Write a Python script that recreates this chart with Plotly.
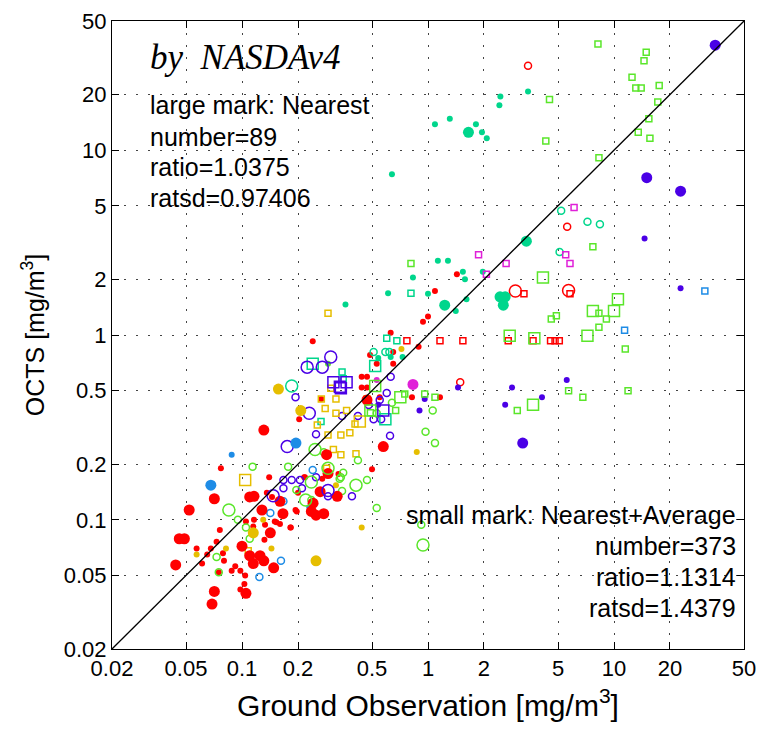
import math
import plotly.graph_objects as go

# ---- data: (ground observation, OCTS) in mg/m^3 ----
red_large = [(0.131,0.306),(0.575,0.249),(0.071,0.13),(0.052,0.113),(0.046,0.079),(0.049,0.079),
             (0.044,0.057),(0.071,0.041),(0.069,0.035),(0.105,0.040),(0.325,0.134),(0.285,0.225),
             (0.241,0.123),(0.25,0.106),(0.275,0.108),(0.16,0.126),(0.166,0.108),(0.128,0.113),
             (0.116,0.134),(0.110,0.133),(0.142,0.085),(0.100,0.072),(0.110,0.064),(0.125,0.064),
             (0.131,0.060),(0.115,0.058),(0.148,0.055),(0.47,0.445),(0.29,0.178),(0.263,0.142),(0.236,0.111)]
red_small = [(0.24,0.925),(0.44,0.595),(0.47,0.595),(0.44,0.52),(0.47,0.52),(0.488,0.78),(0.53,0.70),
             (0.63,1.03),(0.65,0.81),(0.65,0.70),(0.89,0.865),(0.94,1.18),(1.0,1.26),(1.09,1.73),
             (1.43,2.13),(1.16,0.46),(0.55,0.46),(0.82,0.46),(0.50,0.188),(0.203,0.35),(0.077,0.19),
             (0.14,0.17),(0.218,0.17),(0.2,0.14),(0.194,0.113),(0.183,0.091),(0.16,0.095),(0.15,0.098),
             (0.136,0.14),(0.145,0.133),(0.116,0.1),(0.105,0.098),(0.076,0.088),(0.073,0.076),
             (0.068,0.07),(0.065,0.065),(0.057,0.07),(0.061,0.058),(0.08,0.06),(0.079,0.066),
             (0.075,0.052),(0.092,0.056),(0.098,0.053),(0.088,0.053),(0.104,0.05),(0.103,0.045),
             (0.098,0.042),(0.115,0.092),(0.133,0.094),(0.153,0.097),(0.182,0.091),(0.197,0.111),
             (0.216,0.17),(0.27,0.167),(0.33,0.177),(0.267,0.45),(0.132,0.078)]
red_open_small = [(3.45,28.6),(5.6,3.85),(1.49,0.555)]
red_open_large = [(2.95,1.73),(5.7,1.74)]
red_square_small = [(3.28,1.67),(5.8,1.67),(0.77,0.93),(1.16,0.93),(1.54,0.93),(2.7,0.93),
                    (3.67,0.93),(4.56,0.93),(4.82,0.93),(5.08,0.93)]

teal_large = [(1.65,12.5),(3.38,3.22),(1.23,1.45),(2.44,1.61),(2.6,1.61),(2.54,1.45)]
teal_small = [(3.45,20.8),(2.45,19.5),(2.42,17.5),(1.31,14.8),(1.09,13.8),(1.81,13.8),(1.95,12.5),
              (2.07,11.6),(0.64,7.4),(1.13,2.52),(1.28,2.52),(1.54,2.2),(1.58,2.0),(1.97,2.2),
              (1.0,1.67),(1.61,1.56),(1.41,1.35),(0.83,2.05),(0.61,1.68),(0.36,1.46),(0.54,0.75),
              (0.63,0.76),(0.73,0.76)]
teal_open_small = [(5.2,4.7),(7.2,4.1),(8.4,3.97),(5.1,2.81),(0.51,0.81),(0.59,0.81),(0.62,0.81)]
teal_open_large = [(0.185,0.53)]
teal_square_small = [(0.81,1.68),(0.6,0.96),(0.68,0.93),(0.345,0.63),(0.35,0.58),(0.266,0.34)]
teal_square_large = [(0.24,0.70),(0.52,0.68),(0.59,0.35)]

magenta_large = [(0.83,0.54)]
magenta_small = [(0.53,0.57)]
magenta_square_small = [(6.1,4.9),(5.5,2.72),(5.8,2.44),(1.87,2.72),(2.63,2.44),(2.06,2.13)]

purple_large = [(35,37),(15,7.1),(22.8,6.0),(3.23,0.26)]
purple_small = [(14.6,3.33),(22.8,1.79),(1.45,0.52),(2.83,0.52),(5.57,0.57),(4.1,0.46),(2.6,0.42),
                (0.96,0.45),(0.9,0.39),(0.54,0.42)]
purple_open_large = [(0.224,0.67),(0.27,0.67),(0.30,0.76),(0.23,0.377),(0.175,0.249),(0.147,0.135),(0.29,0.144)]
purple_open_small = [(0.194,0.46),(0.25,0.29),(0.345,0.365),(0.42,0.365),(0.51,0.35),(0.56,0.35),
                     (0.625,0.285),(0.63,0.595),(0.6,0.485),(0.55,0.445),(0.48,0.418),(0.167,0.164),
                     (0.185,0.164),(0.205,0.164),(0.167,0.148),(0.21,0.148),(0.25,0.17),(0.29,0.134),(0.39,0.134)]
purple_square_large = [(0.31,0.555),(0.336,0.525),(0.365,0.555),(0.34,0.515),(0.575,0.39)]

yellow_large = [(0.157,0.51),(0.207,0.39),(0.115,0.085),(0.25,0.06)]
yellow_small = [(0.72,0.84),(0.87,0.233),(0.44,0.091),(0.13,0.1),(0.082,0.07),(0.057,0.065),
                (0.144,0.07),(0.32,0.154)]
yellow_square_small = [(0.29,1.31),(0.267,0.45),(0.28,0.40),(0.32,0.45),(0.30,0.515),(0.254,0.326),
                       (0.29,0.288),(0.34,0.288),(0.38,0.296),(0.405,0.33),(0.365,0.39),(0.32,0.377),
                       (0.31,0.24),(0.34,0.225),(0.41,0.228),(0.285,0.19),(0.108,0.068),(0.47,0.45)]
yellow_square_large = [(0.104,0.164),(0.43,0.34)]

blue_large = [(0.195,0.26),(0.068,0.154)]
blue_small = [(0.088,0.225),(0.23,0.117)]
blue_open_small = [(0.24,0.186),(0.167,0.126),(0.142,0.109),(0.162,0.06),(0.124,0.049)]
blue_square_small = [(11.4,1.06),(30.8,1.73)]

green_small = [(0.29,0.70)]
green_square_small = [(8.2,37.5),(14.9,33.9),(14.5,30.5),(12.5,24.8),(13.1,21.7),(14.0,21.7),
                      (17.5,22.4),(17.2,18.2),(15.4,14.8),(13.5,12.5),(15.6,11.6),(4.5,18.8),
                      (4.3,11.2),(8.3,9.1),(7.7,3.0),(8.3,1.31),(9.1,1.22),(4.6,1.22),(4.9,1.27),
                      (8.3,1.1),(11.5,0.84),(5.7,0.5),(6.8,0.46),(11.9,0.5),(3.02,0.39),(0.96,0.48),
                      (1.09,0.46),(0.81,2.44),(0.75,0.48),(0.67,0.39),(0.49,0.38)]
green_square_large = [(4.15,2.05),(10.5,1.56),(7.7,1.35),(10,1.35),(7.2,0.99),(2.75,0.99),(3.73,0.96),
                      (3.67,0.42),(0.52,0.53),(0.71,0.46),(0.49,0.39)]
green_open_small = [(1.06,0.39),(0.97,0.30),(1.09,0.26),(0.92,0.094),(0.114,0.194),(0.47,0.164),
                    (0.42,0.21),(0.53,0.116),(0.345,0.143),(0.35,0.18),(0.34,0.17),(0.275,0.232),
                    (0.236,0.128),(0.196,0.145),(0.177,0.194),(0.095,0.1),(0.105,0.091),(0.11,0.079),
                    (0.073,0.063),(0.075,0.052),(0.64,0.43),(0.53,0.377),(0.335,0.167)]
green_open_large = [(0.247,0.24),(0.41,0.154),(0.22,0.128),(0.236,0.16),(0.085,0.113),(0.94,0.073),(0.29,0.19)]

one_to_one = [0.02, 50]
tick_values = [0.02, 0.05, 0.1, 0.2, 0.5, 1, 2, 5, 10, 20, 50]
tick_labels = ["0.02", "0.05", "0.1", "0.2", "0.5", "1", "2", "5", "10", "20", "50"]

# ---- styles ----
COL = dict(red="#ff0000", teal="#00d68c", purple="#4a00e6", yellow="#e6be00",
           magenta="#e020d8", blue="#1e8ce6", green="#5ae62a")
KIND = {
    "small_filled": dict(symbol="circle", size=6, lw=0),
    "small_open": dict(symbol="circle-open", size=7, lw=1.5),
    "small_square": dict(symbol="square-open", size=6, lw=1.5),
    "large_filled": dict(symbol="circle", size=11, lw=0),
    "large_open": dict(symbol="circle-open", size=12, lw=1.5),
    "large_square": dict(symbol="square-open", size=11, lw=1.5),
}
groups = [
    (red_small, "red", "small_filled"), (red_open_small, "red", "small_open"),
    (red_square_small, "red", "small_square"),
    (teal_small, "teal", "small_filled"), (teal_open_small, "teal", "small_open"),
    (teal_square_small, "teal", "small_square"),
    (magenta_small, "magenta", "small_filled"), (magenta_square_small, "magenta", "small_square"),
    (purple_small, "purple", "small_filled"), (purple_open_small, "purple", "small_open"),
    (yellow_small, "yellow", "small_filled"), (yellow_square_small, "yellow", "small_square"),
    (blue_small, "blue", "small_filled"), (blue_open_small, "blue", "small_open"),
    (blue_square_small, "blue", "small_square"),
    (green_small, "green", "small_filled"), (green_open_small, "green", "small_open"),
    (green_square_small, "green", "small_square"),
    (red_large, "red", "large_filled"), (red_open_large, "red", "large_open"),
    (teal_large, "teal", "large_filled"), (teal_open_large, "teal", "large_open"),
    (teal_square_large, "teal", "large_square"),
    (magenta_large, "magenta", "large_filled"),
    (purple_large, "purple", "large_filled"), (purple_open_large, "purple", "large_open"),
    (purple_square_large, "purple", "large_square"),
    (yellow_large, "yellow", "large_filled"), (yellow_square_large, "yellow", "large_square"),
    (blue_large, "blue", "large_filled"),
    (green_open_large, "green", "large_open"), (green_square_large, "green", "large_square"),
]

fig = go.Figure()
for pts, c, k in groups:
    st = KIND[k]
    fig.add_trace(go.Scatter(
        x=[p[0] for p in pts], y=[p[1] for p in pts], mode="markers",
        marker=dict(symbol=st["symbol"], size=st["size"], color=COL[c],
                    line=dict(width=st["lw"], color=COL[c])),
        showlegend=False, hoverinfo="skip"))

fig.add_trace(go.Scatter(x=one_to_one, y=one_to_one, mode="lines",
                         line=dict(color="black", width=1.3), showlegend=False, hoverinfo="skip"))

FONT = "Liberation Sans, Arial, Helvetica, sans-serif"
axis_common = dict(
    type="log", range=[math.log10(0.02), math.log10(50)],
    tickvals=tick_values, ticktext=tick_labels,
    ticks="inside", ticklen=7, tickwidth=1, tickcolor="black",
    showline=True, linecolor="black", linewidth=1, mirror="ticks",
    showgrid=True, gridcolor="#444444", gridwidth=1, griddash="2px,10px",
    tickfont=dict(family=FONT, size=22, color="black"),
    zeroline=False, automargin=False,
)
fig.update_xaxes(**axis_common,
                 title=dict(text="Ground Observation [mg/m<sup>3</sup>]", standoff=14,
                            font=dict(family=FONT, size=30, color="black")))
fig.update_yaxes(**axis_common,
                 title=dict(text="OCTS [mg/m<sup>3</sup>]", standoff=12,
                            font=dict(family=FONT, size=25, color="black")))

def ann(text, x, y, xanchor, size=25, family=FONT):
    fig.add_annotation(text=text, x=x, y=y, xref="paper", yref="paper", xanchor=xanchor,
                       yanchor="middle", showarrow=False,
                       font=dict(family=family, size=size, color="black"))

ann("<i>by  NASDAv4</i>", 0.057, 0.9416, "left", size=35,
    family="Liberation Serif, Times New Roman, serif")
ann("large mark: Nearest", 0.057, 0.867, "left")
ann("number=89", 0.057, 0.816, "left")
ann("ratio=1.0375", 0.057, 0.768, "left")
ann("ratsd=0.97406", 0.057, 0.718, "left")
ann("small mark: Nearest+Average", 0.99, 0.2134, "right")
ann("number=373", 0.99, 0.164, "right")
ann("ratio=1.1314", 0.99, 0.115, "right")
ann("ratsd=1.4379", 0.99, 0.0648, "right")

fig.update_layout(
    width=760, height=731,
    margin=dict(l=112, r=16, t=21, b=82),
    paper_bgcolor="white", plot_bgcolor="white",
    font=dict(family=FONT, color="black"),
)
fig.write_html("out.html")
